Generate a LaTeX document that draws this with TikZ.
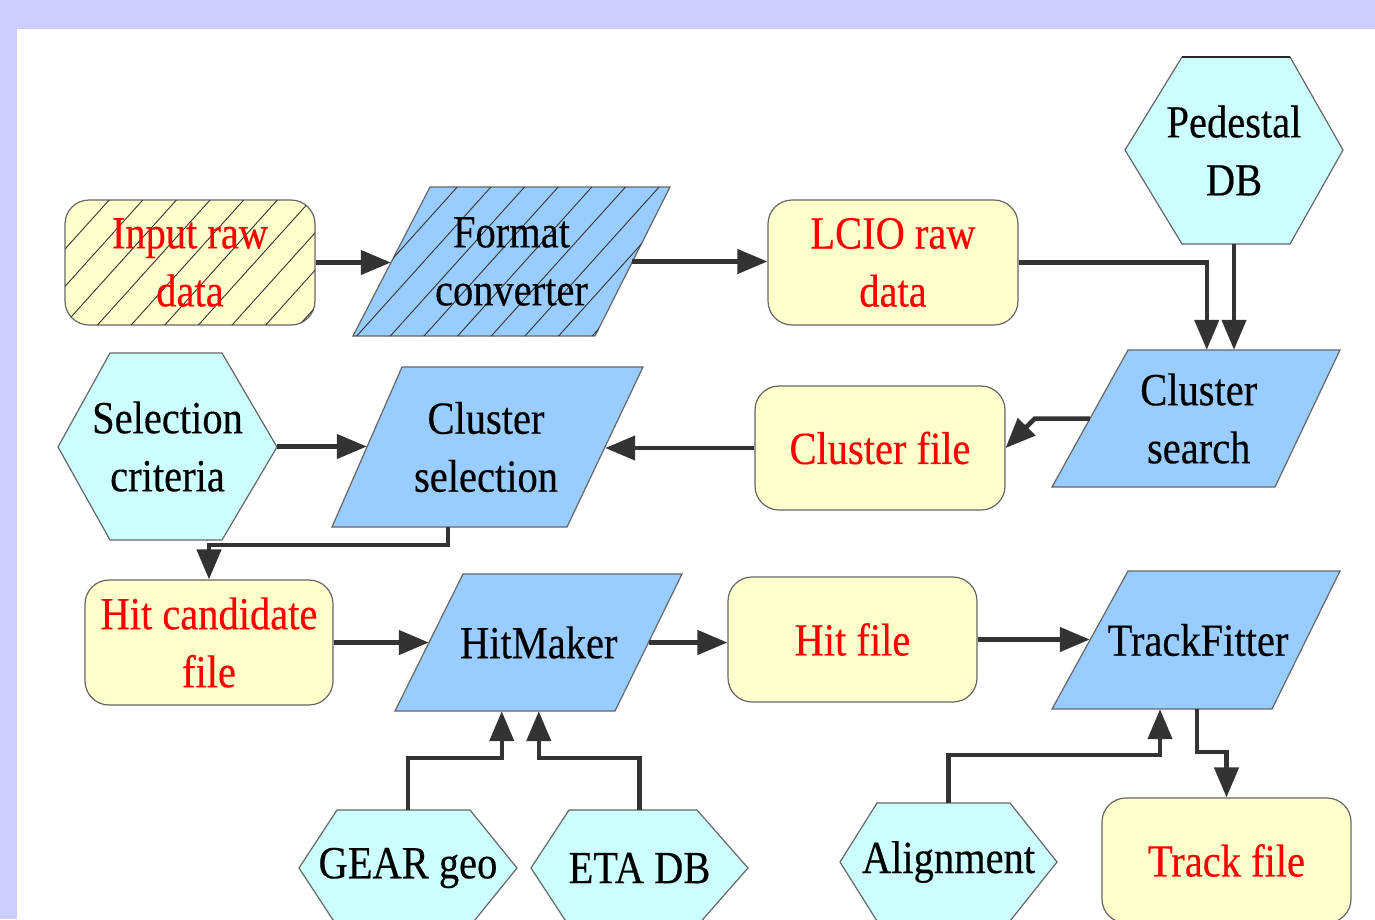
\documentclass[tikz,border=0pt]{standalone}
\usepackage{fontspec}
\setmainfont{Liberation Serif}[FakeStretch=0.88,FakeBold=0.3]
\usetikzlibrary{arrows.meta,patterns.meta,calc}
\definecolor{lav}{HTML}{CCCCFF}
\definecolor{yel}{HTML}{FFFFCC}
\definecolor{blu}{HTML}{99CCFF}
\definecolor{cya}{HTML}{CCFFFF}
\definecolor{edge}{HTML}{666666}
\definecolor{arr}{HTML}{333333}
\tikzset{
 lbl/.style={inner sep=0pt, align=center, font=\fontsize{46}{58}\selectfont},
 filebox/.style={lbl, draw=edge, line width=1.2pt, fill=yel, rounded corners=24pt, text=red, minimum width=250pt, minimum height=125pt},
 procshape/.style={draw=edge, line width=1.2pt, fill=blu},
 dbshape/.style={draw=edge, line width=1.2pt, fill=cya},
 hatch/.style={postaction={pattern={Lines[angle=48,distance=25pt,line width=0.9pt]}, pattern color=black!80}},
 flow/.style={draw=arr, line width=4.5pt, -{Triangle[length=30pt,width=24pt]}},
}
\begin{document}
\begin{tikzpicture}[x=1pt,y=-1pt]
\useasboundingbox (0,0) rectangle (1375,919);
\clip (0,0) rectangle (1375,919);
\fill[lav] (0,0) rectangle (1375,919);
\fill[white] (17,29) rectangle (1375,919);

% ---- row 1
\node[filebox, hatch] (ird) at (190,262.5) {Input raw\\data};
\path[procshape, hatch] (430,187) -- (670,187) -- (595,336) -- (353,336) -- cycle;
\node[lbl, minimum width=241pt, minimum height=149pt] (fc) at (511.5,261.5) {Format\\converter};
\node[filebox] (lcio) at (893,262.5) {LCIO raw\\data};
\path[dbshape] (1125,150) -- (1182,57) -- (1290,57) -- (1343,150) -- (1290,244) -- (1182,244) -- cycle;
\draw[line width=2.5pt, black!85] (1182,57) -- (1290,57);
\node[lbl, minimum width=218pt, minimum height=187pt] (ped) at (1234,150.5) {Pedestal\\DB};

% ---- row 2
\path[procshape] (1128,350) -- (1340,350) -- (1275,487) -- (1052,487) -- cycle;
\node[lbl, minimum width=217.5pt, minimum height=137pt] (cs) at (1198.75,418.5) {Cluster\\search};
\node[filebox, minimum height=124pt] (cf) at (880,448) {Cluster file};
\path[procshape] (402,367) -- (643,367) -- (567,527) -- (332,527) -- cycle;
\node[lbl, minimum width=238pt, minimum height=160pt] (csel) at (486,447) {Cluster\\selection};
\path[dbshape] (58,447) -- (110,353) -- (222,353) -- (277,447) -- (222,540) -- (110,540) -- cycle;
\node[lbl, minimum width=219pt, minimum height=187pt] (sc) at (167.5,446.5) {Selection\\criteria};

% ---- row 3
\node[filebox, minimum width=248pt] (hcf) at (209,642.5) {Hit candidate\\file};
\path[procshape] (463,574) -- (682,574) -- (615,711) -- (395,711) -- cycle;
\node[lbl, minimum width=219.5pt, minimum height=137pt] (hm) at (538.75,642.5) {HitMaker};
\node[filebox, minimum width=249pt] (hf) at (852.5,639.5) {Hit file};
\path[procshape] (1128,571) -- (1340,571) -- (1272,709) -- (1052,709) -- cycle;
\node[lbl, minimum width=216pt, minimum height=138pt] (tf) at (1198,640) {TrackFitter};

% ---- row 4
\path[dbshape] (299,868) -- (337,810) -- (470,810) -- (517,868) -- (470,926) -- (337,926) -- cycle;
\node[lbl, minimum width=218pt, minimum height=116pt] (gear) at (408,868) {GEAR geo};
\path[dbshape] (531,868) -- (569,810) -- (697,810) -- (748,868) -- (697,926) -- (569,926) -- cycle;
\node[lbl, minimum width=217pt, minimum height=116pt] (eta) at (639.5,868) {ETA DB};
\path[dbshape] (840,862) -- (877,803) -- (1010,803) -- (1057,862) -- (1010,921) -- (877,921) -- cycle;
\node[lbl, minimum width=217pt, minimum height=118pt] (al) at (948.5,862) {Alignment};
\node[filebox, minimum width=249pt] (tkf) at (1226.5,860.5) {Track file};

% ---- connectors
\draw[flow] (ird.east) -- (ird.east -| fc.west);
\draw[flow] (fc.east) -- (fc.east -| lcio.west);
\draw[flow] (lcio.east) -| ([xshift=8pt]cs.north);
\draw[flow] (ped.south) -- (ped.south |- cs.north);
\draw[flow] (cs.west) -- ++(-55,0) -- (cf.east);
\draw[flow] (cf.west) -- (cf.west -| csel.east);
\draw[flow] (sc.east) -- (sc.east -| csel.west);
\draw[flow] ([xshift=-38pt]csel.south) -- ++(0,18) -| (hcf.north);
\draw[flow] (hcf.east) -- (hcf.east -| hm.west);
\draw[flow] (hm.east) -- (hm.east -| hf.west);
\draw[flow] (hf.east) -- (hf.east -| tf.west);
\draw[flow] (gear.north) -- ++(0,-52) -| ([xshift=-37pt]hm.south);
\draw[flow] (eta.north) -- ++(0,-52) -| (hm.south);
\draw[flow] (al.north) -- ++(0,-48) -| ([xshift=-38pt]tf.south);
\draw[flow] ([xshift=-1pt]tf.south) -- ++(0,43) -| (tkf.north);
\end{tikzpicture}
\end{document}
